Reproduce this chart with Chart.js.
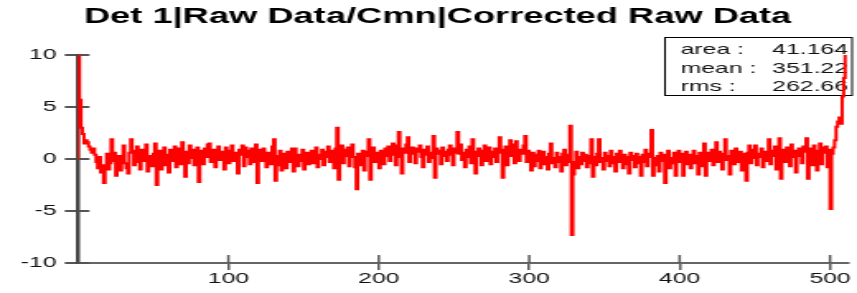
<!DOCTYPE html>
<html>
<head>
<meta charset="utf-8">
<script src="https://cdn.jsdelivr.net/npm/chart.js@4"></script>
<style>
  html, body { margin: 0; padding: 0; background: #fff; overflow: hidden; }
  /* ROOT canvas looks stretched sideways, so draw narrow and stretch with css */
  #c { width: 857px !important; height: 293px !important; display: block; }
</style>
</head>
<body>
<canvas id="c" width="520" height="293" style="width:857px;height:293px"></canvas>
<script>
// bin contents of the 512 channel histogram
var binValues = [
  10.0, 5.7, 3.0, 2.4, 1.5, 1.8, 1.6, 1.2, 0.9, 0.6, 1.0, 0.4, -0.3, -0.9, 0.2, -1.3,
  -0.6, -2.3, -0.8, 0.5, -1.0, -0.4, 1.9, -0.2, 0.6, -1.6, -0.5, 0.3, -1.1, 0.1, 1.3, -0.4,
  -0.9, -1.4, 0.6, 1.9, 0.8, -0.6, 0.4, 1.2, -0.3, -1.0, 0.9, 0.7, -0.2, 1.4, -1.2, -0.5,
  0.3, -0.7, 0.5, 1.5, -2.5, -0.4, 0.8, -1.0, 0.2, 1.1, -0.6, 0.4, -1.3, 0.9, -0.2, 0.5,
  1.2, -0.8, 0.3, 1.0, -0.5, 1.6, 0.2, -1.7, 0.7, -0.4, 1.3, 0.1, 0.9, -0.6, 0.4, 1.1,
  -2.2, 0.3, 0.8, -0.5, 1.0, 0.2, 1.4, 1.5, -0.3, 0.6, 0.9, -0.8, 0.4, 1.2, -0.1, 0.7,
  0.5, -1.0, 1.1, 0.3, -0.4, 0.8, 1.3, -0.2, 0.6, 0.1, -1.4, 0.9, 0.4, 1.3, -0.7, 1.1,
  0.2, 0.8, -0.5, 1.0, -0.3, 0.6, 1.4, -2.3, 0.9, 0.4, -0.2, 1.0, 0.3, -0.8, 0.6, 0.1,
  -0.5, 1.2, 1.9, -2.1, 0.3, -0.6, 0.8, -1.1, 0.2, 0.5, -0.9, 0.7, 0.1, -0.3, 1.0, -1.2,
  1.0, 0.2, -0.7, 0.4, -0.2, 0.9, -1.0, 0.3, 0.6, -0.5, 0.1, 0.8, -0.4, 0.5, 1.1, -0.8,
  0.4, 0.0, 0.9, -0.6, 0.7, 0.2, 1.2, -0.3, 0.8, 0.5, -0.9, 1.0, 3.0, -2.0, 0.6, 1.3,
  -0.4, 0.9, 0.3, 1.1, -0.7, 0.6, 1.4, 0.2, -0.8, -2.9, 0.5, 0.1, -0.6, 0.8, -1.1, 0.3,
  0.7, 1.9, -2.0, 0.4, 1.1, -0.3, 0.6, 0.2, -0.9, 0.8, 0.5, -0.5, 1.0, 0.3, 1.2, -0.2,
  0.9, 1.5, 0.4, -0.6, 1.3, 2.6, 0.2, -1.4, 1.0, 0.6, 1.4, 2.1, -0.3, 0.8, 1.1, 0.5,
  -0.4, 1.0, 0.7, 1.3, 0.2, -0.8, 0.9, 0.4, 1.2, -0.3, 0.6, 0.1, 2.2, -1.8, 1.0, 0.5,
  0.8, -0.5, 1.1, 0.3, 0.7, -0.2, 0.9, 1.3, 0.4, -0.6, 1.0, 0.6, 2.6, 0.5, 1.4, -0.1,
  0.6, -0.8, 0.9, 0.2, 1.2, -0.4, 1.9, 0.7, -1.4, 0.5, 1.0, 0.3, -0.6, 0.8, 1.3, -0.2,
  0.4, 1.1, -0.5, 0.7, 0.2, 1.0, -0.3, 0.6, 2.1, 0.9, -1.8, 0.4, 1.2, -0.6, 0.5, 1.8,
  0.3, 1.4, -0.4, 1.7, 0.6, -0.2, 0.9, 0.5, 1.3, 2.2, -0.3, 0.8, 0.1, -1.1, 0.6, -0.7,
  0.4, -0.2, 0.8, -0.9, 0.3, 0.7, -0.5, 0.2, -1.0, 0.5, 1.5, -0.4, 0.1, -0.8, 0.6, -0.3,
  0.2, -1.2, 0.5, 0.9, -0.6, 0.4, -0.3, 3.2, -7.3, -1.5, -0.3, 0.7, -0.9, 0.2, -0.5, 0.6,
  -0.2, 0.4, -0.8, 0.3, -0.4, 1.9, -1.7, 0.2, -0.6, 0.5, 1.9, -0.3, 0.1, -1.0, 0.6, -0.2,
  0.3, -0.7, 0.8, -0.4, 0.2, -1.2, 0.5, -0.3, 0.8, 0.1, -0.9, 0.4, -0.5, 0.2, -1.4, 0.6,
  -0.1, 0.3, -0.8, 0.5, -0.4, 0.2, -1.6, 0.4, -0.3, 0.9, -0.7, 0.2, 0.5, 2.8, -1.6, 0.1,
  -0.6, 0.3, -1.2, 0.6, -0.2, 0.4, -2.3, 0.2, 0.8, -0.9, 0.1, -0.4, 0.6, -1.6, 0.3, 0.8,
  -0.3, 0.5, -1.6, 0.2, 0.7, -0.5, 0.4, -0.9, 0.1, 0.8, -0.4, 0.3, -1.5, 0.6, 0.2, -0.7,
  1.5, -1.6, 0.3, 0.6, -0.2, 0.9, -0.6, 0.4, 1.6, -0.3, 0.7, 0.2, -1.0, 0.5, 1.9, -0.1,
  0.3, -1.5, 0.8, 0.4, -0.5, 1.0, 0.2, -0.3, 0.7, -1.1, 0.5, 0.3, -2.1, 0.6, 1.3, -0.4,
  0.9, 0.1, 1.3, -0.6, 0.5, 0.2, 1.0, -0.8, 0.4, 0.7, -0.2, 1.9, -0.5, 0.8, 0.3, 1.2,
  -1.0, 0.6, 2.0, -1.9, 0.4, 0.9, -0.3, 1.1, 0.5, -0.7, 1.4, 0.2, 0.8, -1.3, 0.6, 1.0,
  0.3, -0.4, 1.2, 0.7, 2.0, -1.9, 1.0, 0.2, -0.6, 1.3, 0.8, -1.1, 0.4, 1.5, -0.5, 1.1,
  0.6, 1.2, -0.8, 0.9, -4.8, 0.5, 1.1, 1.8, 3.1, 3.6, 4.0, 3.4, 6.0, 7.8, 10.5, 12.0
];

var xTickValues = [100, 200, 300, 400, 500];
var yTickValues = [-10, -5, 0, 5, 10];

var statNames = ['area :', 'mean :', 'rms :'];
var statValues = ['41.164', '351.22', '262.66'];

var titleText = 'Det 1|Raw Data/Cmn|Corrected Raw Data';

// histogram outline: start on the axis, each point closes one bin
var histPoints = [{x: 0, y: 0}];
binValues.forEach(function(v, i) {
    histPoints.push({x: i + 1, y: v});
});

Chart.defaults.font.family = '"Liberation Sans", Arial, sans-serif';
Chart.defaults.color = '#000';

// ROOT draws the ticks across the axis line and keeps a stats box top right
var rootFrame = {
    id: 'rootFrame',
    beforeDatasetsDraw: function(chart) {
        var ctx = chart.ctx;
        var area = chart.chartArea;
        var xs = chart.scales.x, ys = chart.scales.y;
        ctx.save();
        ctx.strokeStyle = '#555';
        ctx.lineWidth = 2;
        yTickValues.forEach(function(v) {
            var py = ys.getPixelForValue(v);
            ctx.beginPath();
            ctx.moveTo(area.left, py);
            ctx.lineTo(area.left + 7, py);
            ctx.stroke();
        });
        ctx.lineWidth = 1.5;
        xTickValues.forEach(function(v) {
            var px = xs.getPixelForValue(v);
            ctx.beginPath();
            ctx.moveTo(px, area.bottom);
            ctx.lineTo(px, area.bottom - 8);
            ctx.stroke();
        });

        // stats box
        var bx = 403.5, by = 37.5, bw = 113.5, bh = 58;
        ctx.fillStyle = '#fff';
        ctx.fillRect(bx, by, bw, bh);
        ctx.strokeStyle = '#000';
        ctx.lineWidth = 1;
        ctx.strokeRect(bx, by, bw, bh);
        ctx.fillStyle = '#111';
        ctx.font = '15px "Liberation Sans", Arial, sans-serif';
        ctx.textBaseline = 'middle';
        statNames.forEach(function(name, i) {
            var ty = 50 + i * 18.5;
            ctx.textAlign = 'left';
            ctx.fillText(name, 413, ty);
            ctx.textAlign = 'right';
            ctx.fillText(statValues[i], 514.5, ty);
        });

        // title, centred where ROOT puts it
        ctx.fillStyle = '#000';
        ctx.font = 'bold 22px "Liberation Sans", Arial, sans-serif';
        ctx.textAlign = 'center';
        ctx.fillText(titleText, 265.5, 17);
        ctx.restore();
    }
};

var histChart = new Chart(document.getElementById('c'), {
    type: 'line',
    data: {
        datasets: [{
            label: 'Det 1',
            data: histPoints,
            stepped: 'after',
            borderColor: '#ff0000',
            borderWidth: 2,
            pointRadius: 0,
            fill: false
        }]
    },
    options: {
        responsive: false,
        devicePixelRatio: 1,
        animation: false,
        layout: {
            padding: {left: 0, right: 5.4, top: 55, bottom: 0}
        },
        plugins: {
            legend: {display: false},
            tooltip: {enabled: false},
            title: {display: false}
        },
        scales: {
            x: {
                type: 'linear',
                min: 0,
                max: 512,
                afterBuildTicks: function(s) {
                    s.ticks = xTickValues.map(function(v) { return {value: v}; });
                },
                afterFit: function(s) { s.height = 30; },
                border: {color: '#666', width: 2},
                grid: {drawOnChartArea: false, tickLength: 7, color: '#555', lineWidth: 1.5},
                ticks: {color: '#111', font: {size: 15}, padding: 0, maxRotation: 0}
            },
            y: {
                min: -10,
                max: 10,
                afterBuildTicks: function(s) {
                    s.ticks = yTickValues.map(function(v) { return {value: v}; });
                },
                afterFit: function(s) { s.width = 47.3; },
                border: {color: '#444', width: 2.5},
                grid: {drawOnChartArea: false, tickLength: 8, color: '#555', lineWidth: 2},
                ticks: {color: '#111', font: {size: 15}, padding: 5}
            }
        }
    },
    plugins: [rootFrame]
});
</script>
</body>
</html>
